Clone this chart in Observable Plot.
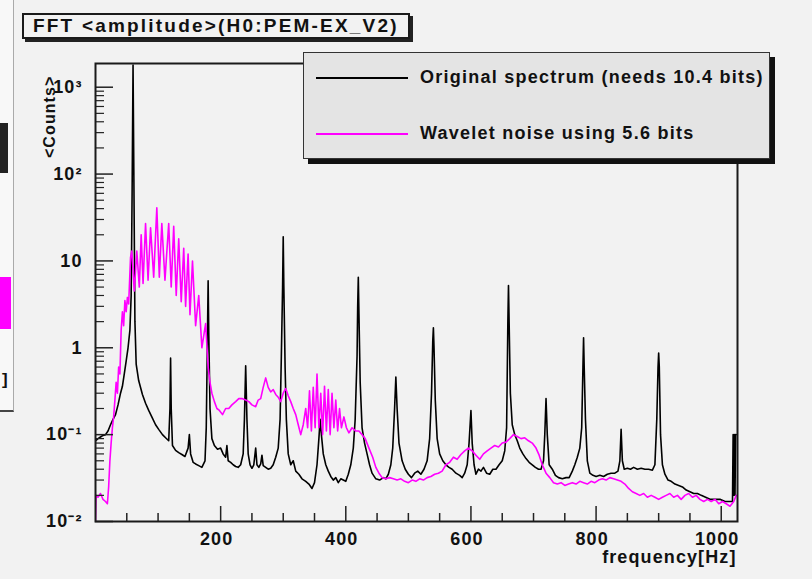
<!DOCTYPE html>
<html><head><meta charset="utf-8">
<script src="https://cdn.jsdelivr.net/npm/d3@7"></script>
<script src="https://cdn.jsdelivr.net/npm/@observablehq/plot@0.6"></script>
<style>
html,body{margin:0;padding:0;background:#f3f3f3;}
#wrap{position:relative;width:812px;height:579px;overflow:hidden;background:#f2f2f2;font-family:"Liberation Sans",Arial,sans-serif;font-weight:bold;color:#111;}
#wrap svg{position:absolute;left:0;top:0;}
.box{position:absolute;box-sizing:border-box;}
#title{left:22px;top:13px;width:388px;height:26px;border:2px solid #1a1a1a;background:#f2f2f2;box-shadow:3px 3px 0 #222;font-size:19px;letter-spacing:2.2px;line-height:22px;padding-left:9px;white-space:nowrap;overflow:hidden;}
#legend{left:303px;top:52px;width:467px;height:107px;border:1.5px solid #333;background:#e4e4e4;box-shadow:5px 5px 0 #111;}
.lrow{position:absolute;left:0;height:24px;white-space:nowrap;font-size:18px;letter-spacing:1.25px;}
.lrow .sw{position:absolute;left:12px;top:11px;width:92px;height:0;border-top:2px solid #000;}
.lrow .tx{position:absolute;left:116px;top:1px;}
#frag{left:0;top:0;width:14px;height:412px;background:#f8f8f8;border-right:1px solid #aaa;border-bottom:2px solid #444;overflow:visible;}
</style></head><body>
<div id="wrap"></div>
<script>
// ---- data ----
const originalFreq = [0,4,8,12,16,20,24,28,32,36,40,43,46,49,52,55,57,58.5,60,61.5,63,65,69,75,80,85,90,96,101,107,112,117,119,120,121,123,128,133,138,143,148,150,152,156,160,165,170,175,177,179,180,181,183,186,190,195,200,204,208,210,212,216,220,224,228,232,236,238,240,242,244,247,250,253,256,258,261,264,266,268,272,276,280,284,288,292,295,297,299,300,301,303,305,308,312,316,320,325,330,336,341,346,350,354,357,359,361,364,368,372,376,380,384,388,392,396,400,404,408,412,415,418,419,420,421,423,426,430,434,438,442,448,454,460,464,468,472,475,478,480,482,485,490,495,500,505,510,515,520,525,530,534,537,539,540,541,543,546,550,555,560,565,570,576,582,586,590,594,597,600,602,605,608,612,616,620,625,630,635,640,645,650,654,657,659,660,661,663,666,670,674,678,683,688,693,698,703,708,712,716,718,720,722,725,730,735,740,746,752,757,762,766,770,774,777,779,780,781,783,786,790,795,800,806,812,818,824,830,835,838,840,842,845,850,855,860,866,872,878,884,890,894,897,899,900,901,903,906,910,915,920,926,932,938,944,950,956,962,968,975,982,990,998,1006,1012,1018,1019,1020,1021,1022,1023,1024];
const originalAmp = [.085,.09,.094,.098,.1,.11,.13,.15,.17,.22,.3,.36,.5,.7,1.0,1.6,4,60,1800,60,2.0,.65,.42,.29,.23,.19,.16,.13,.115,.1,.092,.085,.2,.76,.2,.075,.066,.062,.059,.056,.07,.1,.06,.048,.046,.044,.042,.05,.12,1.5,5.9,1.5,.2,.09,.075,.068,.07,.06,.055,.075,.05,.048,.045,.043,.042,.045,.06,.15,.62,.15,.06,.045,.041,.045,.07,.045,.042,.046,.058,.044,.042,.04,.041,.045,.055,.07,.15,.8,5,19,5,.6,.15,.06,.045,.05,.038,.035,.031,.029,.027,.024,.028,.045,.09,.15,.1,.06,.045,.038,.033,.03,.032,.028,.031,.03,.029,.035,.045,.07,.15,.8,3,6.5,2.5,.4,.12,.08,.06,.045,.036,.031,.03,.032,.031,.035,.045,.07,.2,.46,.2,.08,.05,.04,.035,.032,.036,.038,.035,.04,.05,.09,.3,1.2,1.7,1.0,.25,.09,.06,.05,.045,.042,.04,.036,.034,.032,.036,.045,.08,.19,.08,.045,.035,.04,.038,.042,.036,.035,.04,.04,.045,.05,.065,.12,2.0,5.2,2.0,.3,.13,.1,.085,.07,.06,.053,.048,.045,.042,.04,.04,.05,.1,.26,.1,.045,.04,.034,.032,.031,.032,.032,.038,.045,.055,.07,.12,.6,1.3,.6,.15,.05,.036,.034,.033,.034,.033,.035,.036,.036,.038,.05,.115,.05,.04,.041,.04,.042,.04,.041,.04,.04,.039,.045,.15,.6,.87,.6,.1,.045,.035,.03,.029,.027,.026,.025,.023,.022,.021,.021,.02,.019,.018,.018,.018,.017,.017,.017,.1,.02,.1,.02,.1,.1];

const waveletFreq = [0,1,4,8,12,16,19,21,23,25,27,29,31,33,35,37,39,41,43,45,47,49,51,53,56,58,62,66,70,73,76,80,84,88,93,98,102,106,111,117,121,125,129,133,137,141,144,148,151,155,160,165,170,176,180,183,186,190,194,198,203,208,213,218,224,229,234,240,245,250,256,260,264,268,272,276,280,284,288,292,296,300,304,308,312,316,320,324,328,332,336,339,342,345,348,351,354,357,360,363,366,369,372,375,378,381,384,387,390,393,397,401,405,410,416,421,426,431,437,443,448,453,458,464,470,476,482,488,494,500,506,512,518,524,530,536,542,548,554,560,566,572,578,584,590,596,602,608,614,620,626,632,638,644,650,656,662,668,674,680,686,692,698,704,709,714,720,726,732,738,744,750,756,762,768,774,780,786,792,798,804,810,816,822,828,834,840,846,852,858,864,870,876,882,888,894,900,906,912,918,924,930,936,942,948,954,960,966,972,978,984,990,996,1002,1008,1014,1020,1024];
const waveletAmp = [.01,.02,.019,.021,.018,.017,.016,.025,.05,.08,.12,.16,.25,.4,.3,.6,.5,1.6,2.6,1.8,3.5,2.6,3.8,3.2,11,13,4.5,13,5,20,5.5,27,6,24,6.5,41,6.5,27,6,27,5,25,4,18,3.4,14,3,12,2.4,10,1.8,4,1.0,1.9,.6,.4,.3,.24,.2,.19,.17,.2,.2,.22,.24,.26,.26,.25,.24,.22,.21,.25,.26,.35,.45,.35,.31,.33,.29,.27,.24,.3,.34,.28,.24,.2,.17,.13,.1,.13,.2,.12,.32,.11,.35,.12,.5,.12,.3,.1,.36,.11,.33,.1,.3,.12,.25,.11,.2,.12,.16,.12,.105,.12,.11,.11,.1,.09,.07,.055,.042,.036,.032,.031,.032,.031,.03,.031,.029,.028,.03,.029,.031,.03,.032,.033,.035,.036,.038,.045,.048,.055,.052,.059,.065,.07,.065,.058,.052,.06,.065,.07,.075,.072,.08,.082,.09,.1,.095,.09,.092,.085,.08,.07,.058,.045,.036,.032,.028,.027,.028,.026,.027,.028,.027,.029,.028,.027,.029,.028,.03,.031,.03,.032,.031,.03,.029,.027,.024,.022,.021,.02,.021,.019,.02,.019,.018,.019,.02,.021,.019,.02,.018,.02,.021,.019,.02,.018,.017,.018,.017,.018,.016,.017,.016,.015,.017,.02];

const seriesNames = ["Original spectrum (needs 10.4 bits)", "Wavelet noise using 5.6 bits"];
const seriesColors = ["#000000", "#ff00ff"];
const chartTitle = "FFT <amplitude>(H0:PEM-EX_V2)";
const xTitle = "frequency[Hz]";
const yTitle = "<Counts>";
const xTicks = [200, 400, 600, 800, 1000];
const xTickLabels = ["200", "400", "600", "800", "1000"];
const xMinorTicks = [50,100,150,250,300,350,450,500,550,650,700,750,850,900,950];
const yTicks = [0.01, 0.1, 1, 10, 100, 1000];
const yTickLabels = ["10\u207B\u00B2", "10\u207B\u00B9", "1", "10", "10\u00B2", "10\u00B3"];
const yMinorTicks = [0.02,0.03,0.04,0.05,0.06,0.07,0.08,0.09,0.2,0.3,0.4,0.5,0.6,0.7,0.8,0.9,2,3,4,5,6,7,8,9,20,30,40,50,60,70,80,90,200,300,400,500,600,700,800,900];

// ---- build ----
const original = originalFreq.map((f, i) => ({f, v: originalAmp[i]}));
const wavelet = waveletFreq.map((f, i) => ({f, v: waveletAmp[i]}));
const yLabelRows = yTicks.map((v, i) => ({v, label: yTickLabels[i]}));
const xLabelRows = xTicks.map((f, i) => ({f, label: xTickLabels[i]}));

const W = 812, H = 579, mL = 95, mR = 75, mT = 63, mB = 58;
const frameW = W - mL - mR, frameH = H - mT - mB;

const chart = Plot.plot({
  width: W, height: H,
  marginLeft: mL, marginRight: mR, marginTop: mT, marginBottom: mB,
  style: {background: "transparent", fontFamily: "'Liberation Sans', Arial, sans-serif", fontWeight: "bold", fontSize: "18px", color: "#111", overflow: "visible"},
  x: {domain: [0, 1026], axis: null},
  y: {type: "log", domain: [0.01, 1875], axis: null},
  marks: [
    Plot.line(original, {x: "f", y: "v", stroke: seriesColors[0], strokeWidth: 1.6, clip: true}),
    Plot.line(wavelet, {x: "f", y: "v", stroke: seriesColors[1], strokeWidth: 1.6, clip: true}),
    Plot.tickX(xTicks, {x: d => d, insetTop: frameH - 15, stroke: "#222", strokeWidth: 1.5}),
    Plot.tickX(xMinorTicks, {x: d => d, insetTop: frameH - 8, stroke: "#222", strokeWidth: 1.5}),
    Plot.tickY(yTicks, {y: d => d, insetRight: frameW - 18, stroke: "#222", strokeWidth: 1.5}),
    Plot.tickY(yMinorTicks, {y: d => d, insetRight: frameW - 9, stroke: "#222", strokeWidth: 1.2}),
    Plot.frame({stroke: "#1a1a1a", strokeWidth: 2}),
    Plot.text(xLabelRows, {x: "f", text: "label", frameAnchor: "bottom", dy: 23, dx: -4, fontSize: 18, fill: "#111"}),
    Plot.text(yLabelRows, {y: "v", text: "label", frameAnchor: "left", dx: -13, textAnchor: "end", fontSize: 18, fill: "#111"}),
    Plot.text([xTitle], {frameAnchor: "bottom-right", dy: 41, dx: -1, textAnchor: "end", fontSize: 18, fill: "#111"}),
    Plot.text([yTitle], {frameAnchor: "top-left", dx: -52, dy: 12, rotate: -90, textAnchor: "end", fontSize: 16, fill: "#111"})
  ]
});

const wrap = document.getElementById("wrap");
wrap.appendChild(chart);
// widen the tick-label and axis-title glyphs a little, as in the reference
chart.querySelectorAll("text").forEach(el => { el.style.letterSpacing = "1.1px"; });

// neighbouring panel fragment on the far left
const frag = document.createElement("div");
frag.className = "box"; frag.id = "frag";
frag.innerHTML = '<div style="position:absolute;left:0;top:123px;width:8px;height:50px;background:#222;"></div>' +
  '<div style="position:absolute;left:0;top:277px;width:11px;height:52px;background:#ff00ff;"></div>' +
  '<div style="position:absolute;left:2px;top:370px;font-size:17px;">]</div>';
wrap.appendChild(frag);

// title box
const t = document.createElement("div");
t.className = "box"; t.id = "title"; t.textContent = chartTitle;
wrap.appendChild(t);

// legend box
const lg = document.createElement("div");
lg.className = "box"; lg.id = "legend";
seriesNames.forEach((name, i) => {
  const row = document.createElement("div");
  row.className = "lrow";
  row.style.top = (i === 0 ? 13 : 69) + "px";
  row.innerHTML = `<div class="sw" style="border-top-color:${seriesColors[i]}"></div><div class="tx"></div>`;
  row.querySelector(".tx").textContent = name;
  lg.appendChild(row);
});
wrap.appendChild(lg);
</script>
</body></html>
